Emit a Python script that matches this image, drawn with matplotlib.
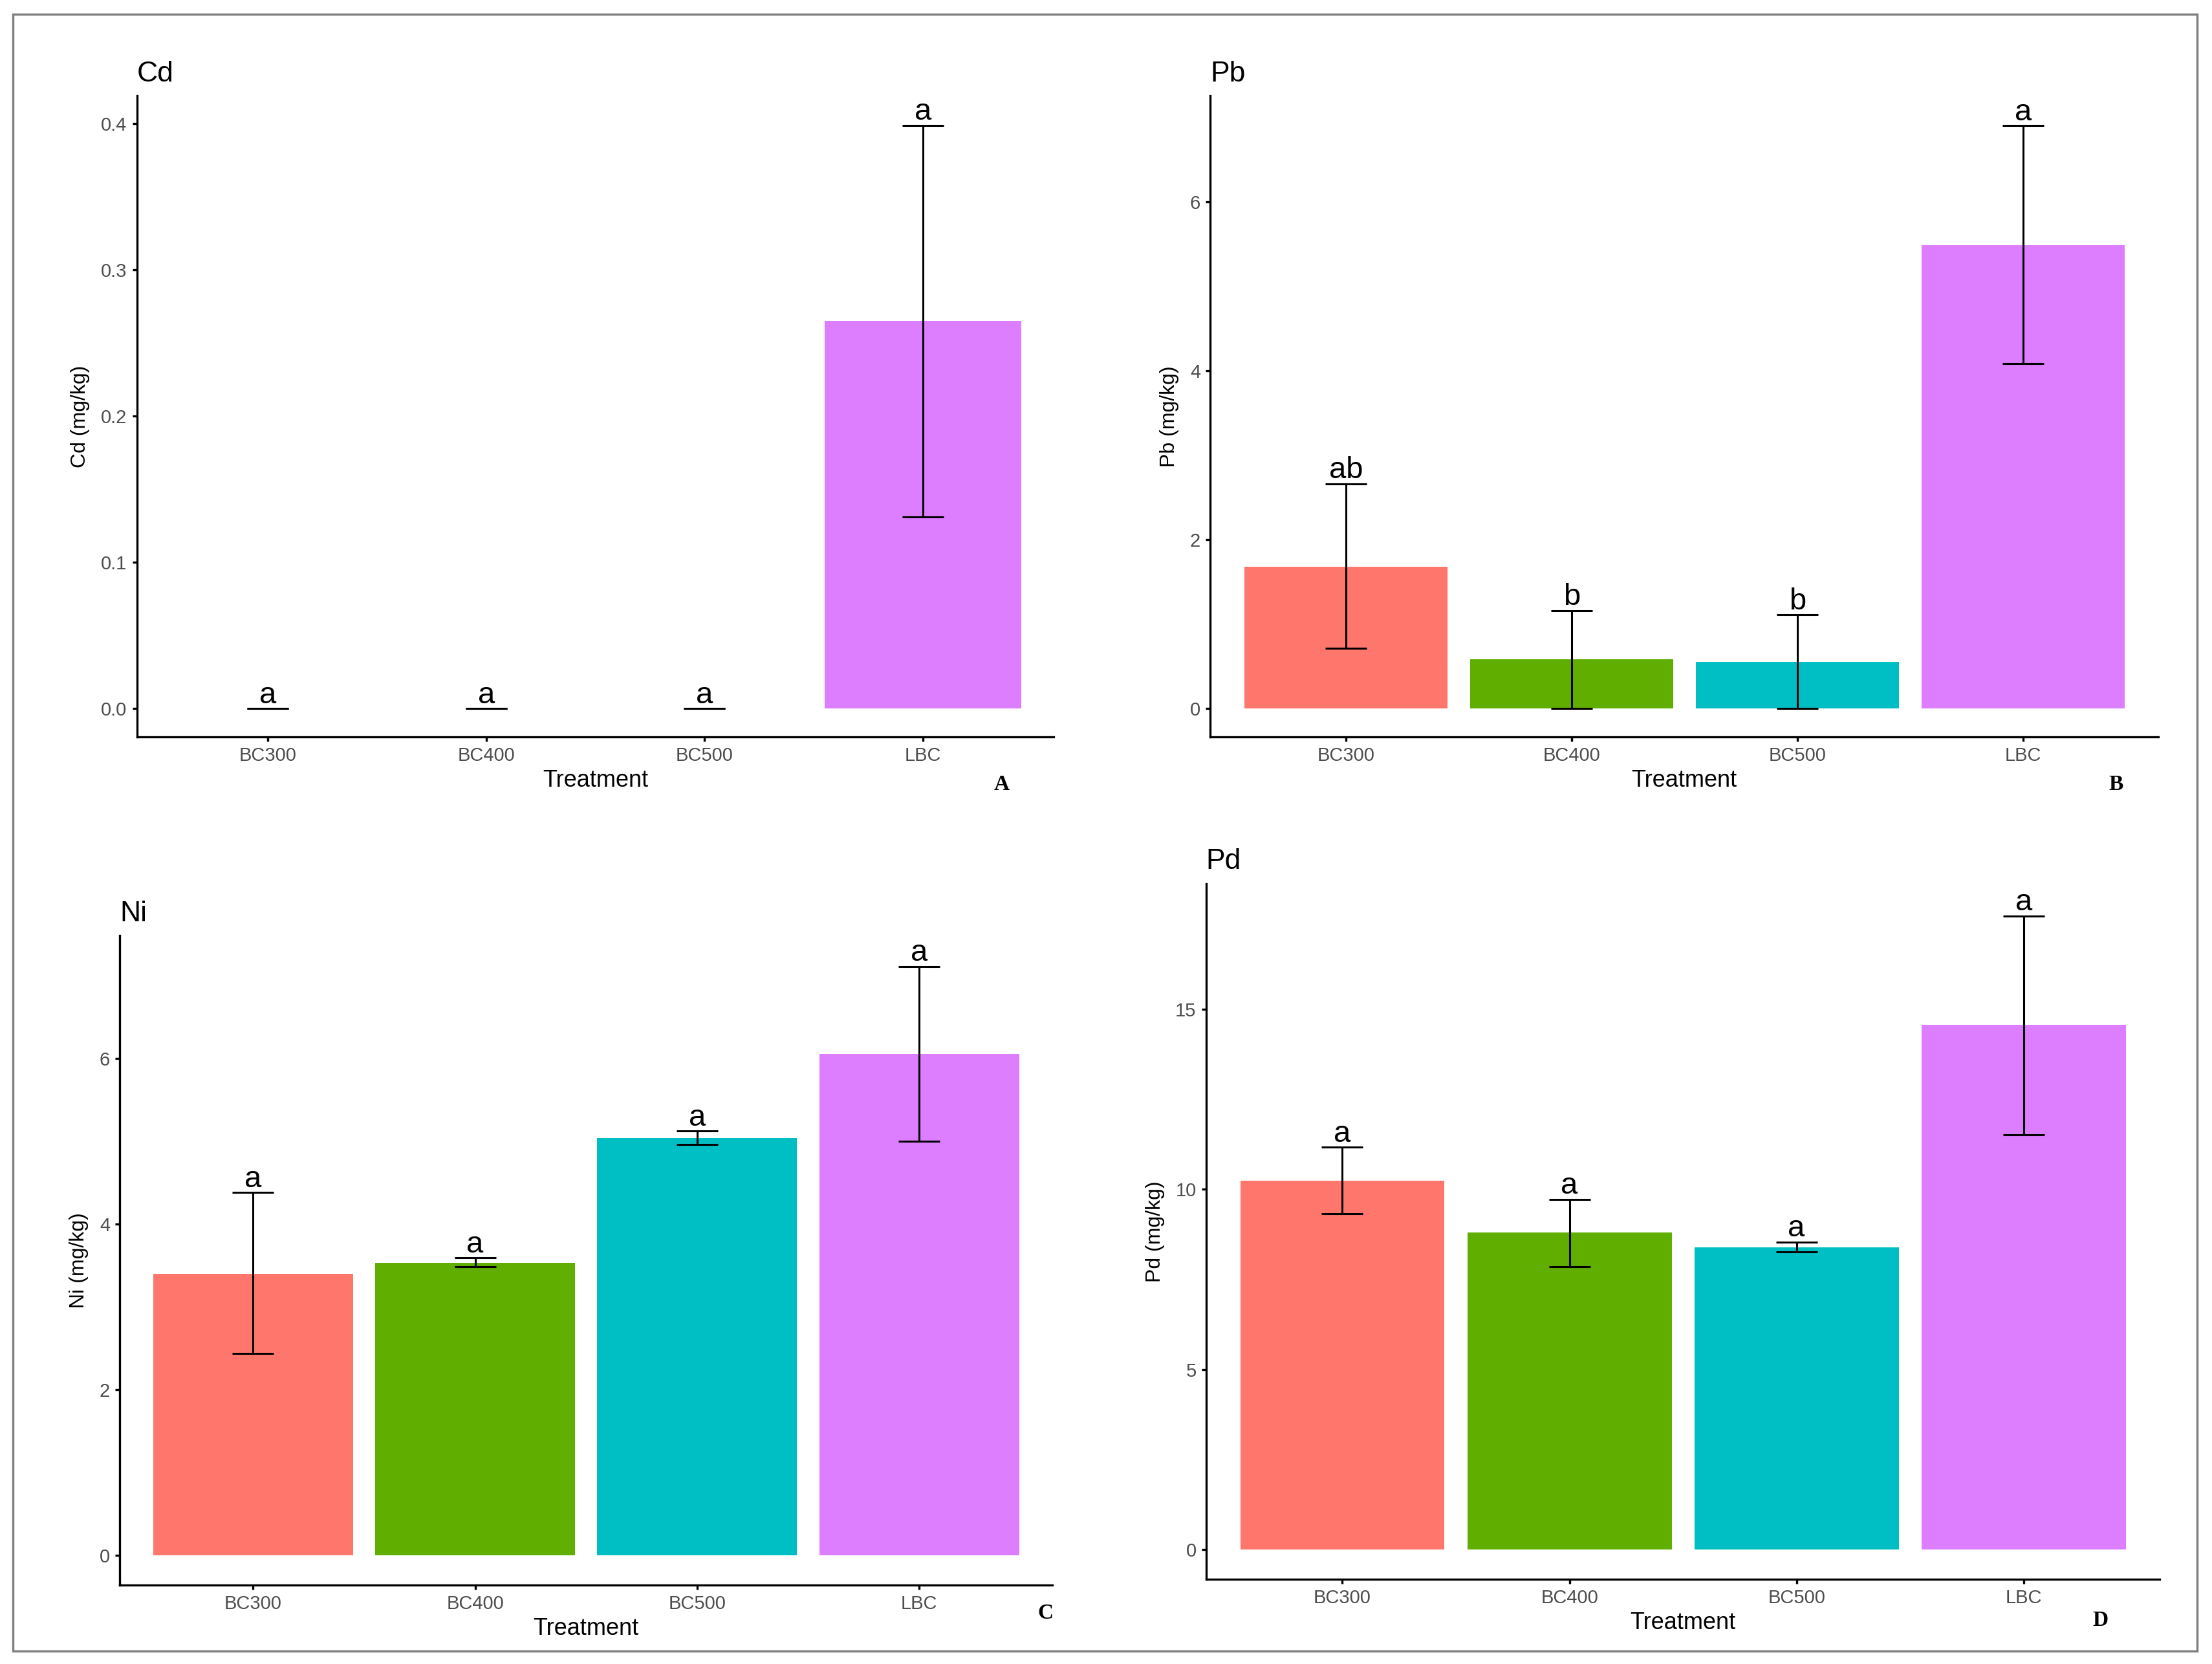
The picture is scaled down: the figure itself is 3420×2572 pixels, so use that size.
import matplotlib
matplotlib.use("Agg")
import matplotlib.pyplot as plt
from matplotlib.patches import Rectangle
import numpy as np

plt.rcParams['font.family'] = ['Liberation Sans', 'DejaVu Sans']

# ---------------- data ----------------
categories = ['BC300', 'BC400', 'BC500', 'LBC']

cd_mean = [0.0, 0.0, 0.0, 0.265]
cd_upper = [0.0, 0.0, 0.0, 0.399]
cd_lower = [0.0, 0.0, 0.0, 0.131]
cd_letters = ['a', 'a', 'a', 'a']

pb_mean = [1.68, 0.58, 0.55, 5.48]
pb_upper = [2.66, 1.16, 1.11, 6.90]
pb_lower = [0.71, 0.0, 0.0, 4.08]
pb_letters = ['ab', 'b', 'b', 'a']

ni_mean = [3.40, 3.53, 5.04, 6.05]
ni_upper = [4.38, 3.59, 5.12, 7.11]
ni_lower = [2.44, 3.48, 4.96, 5.00]
ni_letters = ['a', 'a', 'a', 'a']

pd_mean = [10.24, 8.80, 8.40, 14.57]
pd_upper = [11.17, 9.73, 8.54, 17.59]
pd_lower = [9.32, 7.86, 8.26, 11.52]
pd_letters = ['a', 'a', 'a', 'a']

colors = ['#FF766D', '#60AF00', '#00BFC4', '#DC7EFF']

# ---------------- figure ----------------
W, H = 3420, 2572
fig = plt.figure(figsize=(W / 100, H / 100), dpi=100)
fig.patch.set_facecolor('white')

def frac_box(l, t, r, b):
    # shown-image pixel coords (1568x1179) -> figure fraction
    return [l / 1568, 1 - b / 1179, (r - l) / 1568, (b - t) / 1179]

panels = [
    dict(name='Cd', mean=cd_mean, up=cd_upper, lo=cd_lower, let=cd_letters,
         box=frac_box(97, 68, 747, 522), ylim=(-0.0193, 0.419),
         ticks=[0.0, 0.1, 0.2, 0.3, 0.4], fmt='{:.1f}', tag='A', tagpos=(710, 556)),
    dict(name='Pb', mean=pb_mean, up=pb_upper, lo=pb_lower, let=pb_letters,
         box=frac_box(858, 68, 1530, 522), ylim=(-0.334, 7.25),
         ticks=[0, 2, 4, 6], fmt='{:d}', tag='B', tagpos=(1500, 556)),
    dict(name='Ni', mean=ni_mean, up=ni_upper, lo=ni_lower, let=ni_letters,
         box=frac_box(85, 663, 746, 1123), ylim=(-0.358, 7.48),
         ticks=[0, 2, 4, 6], fmt='{:d}', tag='C', tagpos=(741, 1143)),
    dict(name='Pd', mean=pd_mean, up=pd_upper, lo=pd_lower, let=pd_letters,
         box=frac_box(855, 626, 1531, 1119), ylim=(-0.82, 18.49),
         ticks=[0, 5, 10, 15], fmt='{:d}', tag='D', tagpos=(1489, 1148)),
]

x = np.arange(1, len(categories) + 1)

for p in panels:
    ax = fig.add_axes(p['box'])
    ax.bar(x, p['mean'], width=0.9, color=colors, zorder=1)
    mean = np.array(p['mean'])
    yerr = np.vstack([mean - np.array(p['lo']), np.array(p['up']) - mean])
    ax.errorbar(x, mean, yerr=yerr, fmt='none', ecolor='black',
                elinewidth=2.2, capsize=23, capthick=2.2, zorder=3)
    for xi, u, t in zip(x, p['up'], p['let']):
        ax.annotate(t, (xi, u), xytext=(0, 6), textcoords='offset points',
                    ha='center', va='baseline', fontsize=34, color='black')
    ax.set_xlim(0.4, 4.6)
    ax.set_ylim(*p['ylim'])
    ax.set_xticks(x)
    ax.set_xticklabels(categories)
    ax.set_yticks(p['ticks'])
    ax.set_yticklabels([p['fmt'].format(v) for v in p['ticks']])
    for s in ['top', 'right']:
        ax.spines[s].set_visible(False)
    for s in ['left', 'bottom']:
        ax.spines[s].set_linewidth(2.4)
        ax.spines[s].set_color('black')
    ax.tick_params(axis='both', length=5, width=2.4, color='black',
                   labelsize=21, labelcolor='#4D4D4D', pad=6)
    ax.set_xlabel('Treatment', fontsize=26, labelpad=5)
    ax.set_ylabel(f"{p['name']} (mg/kg)", fontsize=23, labelpad=12)
    ax.set_title(p['name'], loc='left', fontsize=32, pad=16)
    tx, ty = p['tagpos']
    fig.text(tx / 1568, 1 - ty / 1179, p['tag'], ha='center', va='center',
             fontsize=24, fontweight='bold', family='Liberation Serif')

# outer grey frame
fig.add_artist(Rectangle((20 / W, 1 - 2552 / H), (3397 - 20) / W, (2552 - 22) / H,
                         transform=fig.transFigure, fill=False,
                         edgecolor='#808080', linewidth=2.5))

fig.savefig('out.png', dpi=100, facecolor='white')
